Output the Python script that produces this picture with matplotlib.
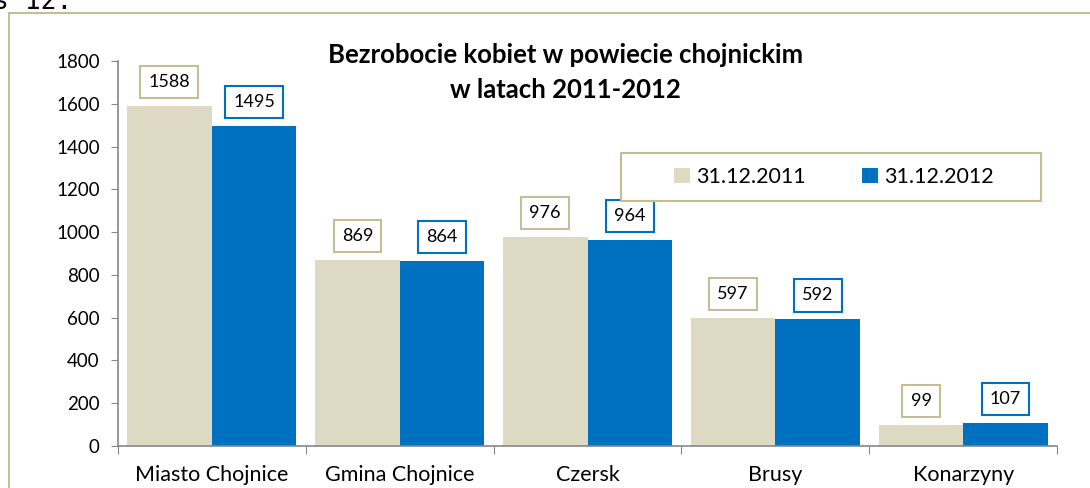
import matplotlib.pyplot as plt
import numpy as np
from matplotlib.patches import Rectangle

categories = ['Miasto Chojnice', 'Gmina Chojnice', 'Czersk', 'Brusy', 'Konarzyny']
values_2011 = [1588, 869, 976, 597, 99]
values_2012 = [1495, 864, 964, 592, 107]
series_names = ['31.12.2011', '31.12.2012']

beige = '#ddd9c3'
blue = '#0070c0'
frame = '#c4bd97'
axis_grey = '#868686'

plt.rcParams['font.family'] = ['Lato', 'DejaVu Sans']

fig = plt.figure(figsize=(10.9, 4.88), dpi=100)
ax = fig.add_axes([0.108, 0.086, 0.862, 0.789])

# outer frame of the chart
fig.patches.append(Rectangle((9 / 1090, -0.1), 1.2, 1 - 13 / 488 + 0.1,
                             transform=fig.transFigure, fill=False,
                             edgecolor=frame, linewidth=1.5))
fig.text(-0.006, 0.995, 's 12.', fontsize=19, family='DejaVu Sans Mono',
         va='center', ha='left')

x = np.arange(len(categories))
w = 0.45
b1 = ax.bar(x - w / 2, values_2011, w, color=beige, label=series_names[0])
b2 = ax.bar(x + w / 2, values_2012, w, color=blue, label=series_names[1])

for bars, vals, ec in [(b1, values_2011, frame), (b2, values_2012, blue)]:
    for bar, v in zip(bars, vals):
        ax.annotate(str(v), (bar.get_x() + bar.get_width() / 2, v),
                    xytext=(0, 24), textcoords='offset pixels',
                    ha='center', va='center', fontsize=13,
                    bbox=dict(boxstyle='square,pad=0.45', fc='white', ec=ec, lw=1.5))

ax.set_xlim(-0.5, len(categories) - 0.5)
ax.set_ylim(0, 1800)
ax.set_yticks(range(0, 1801, 200))
ax.set_xticks(np.arange(-0.5, len(categories), 1.0))
ax.set_xticklabels([])
ax.set_xticks(x, minor=True)
ax.set_xticklabels(categories, minor=True, fontsize=15.5)
ax.tick_params(axis='x', which='minor', length=0, pad=14)
ax.tick_params(axis='x', which='major', length=6, color=axis_grey)
ax.tick_params(axis='y', length=5, color=axis_grey, labelsize=13.5, pad=8)
for s in ['top', 'right']:
    ax.spines[s].set_visible(False)
for s in ['left', 'bottom']:
    ax.spines[s].set_color(axis_grey)
    ax.spines[s].set_linewidth(1.2)

fig.text(0.519, 0.852, 'Bezrobocie kobiet w powiecie chojnickim\nw latach 2011-2012',
         ha='center', va='center', fontsize=18.5, fontweight='bold', linespacing=1.55)

# legend box drawn separately, entries centred inside it
box = Rectangle((621 / 1090, 1 - 201 / 488), 420 / 1090, 48 / 488,
                transform=fig.transFigure, fc='white', edgecolor=frame,
                linewidth=1.5, zorder=4, clip_on=False)
ax.add_patch(box)
leg = ax.legend(loc='center', bbox_to_anchor=(834 / 1090, 1 - 177 / 488),
                bbox_transform=fig.transFigure, ncol=2, fontsize=15.5,
                frameon=False, handlelength=0.75, handleheight=0.75,
                handletextpad=0.3, columnspacing=2.6)
leg.set_zorder(6)

fig.savefig('out.png', dpi=100)
